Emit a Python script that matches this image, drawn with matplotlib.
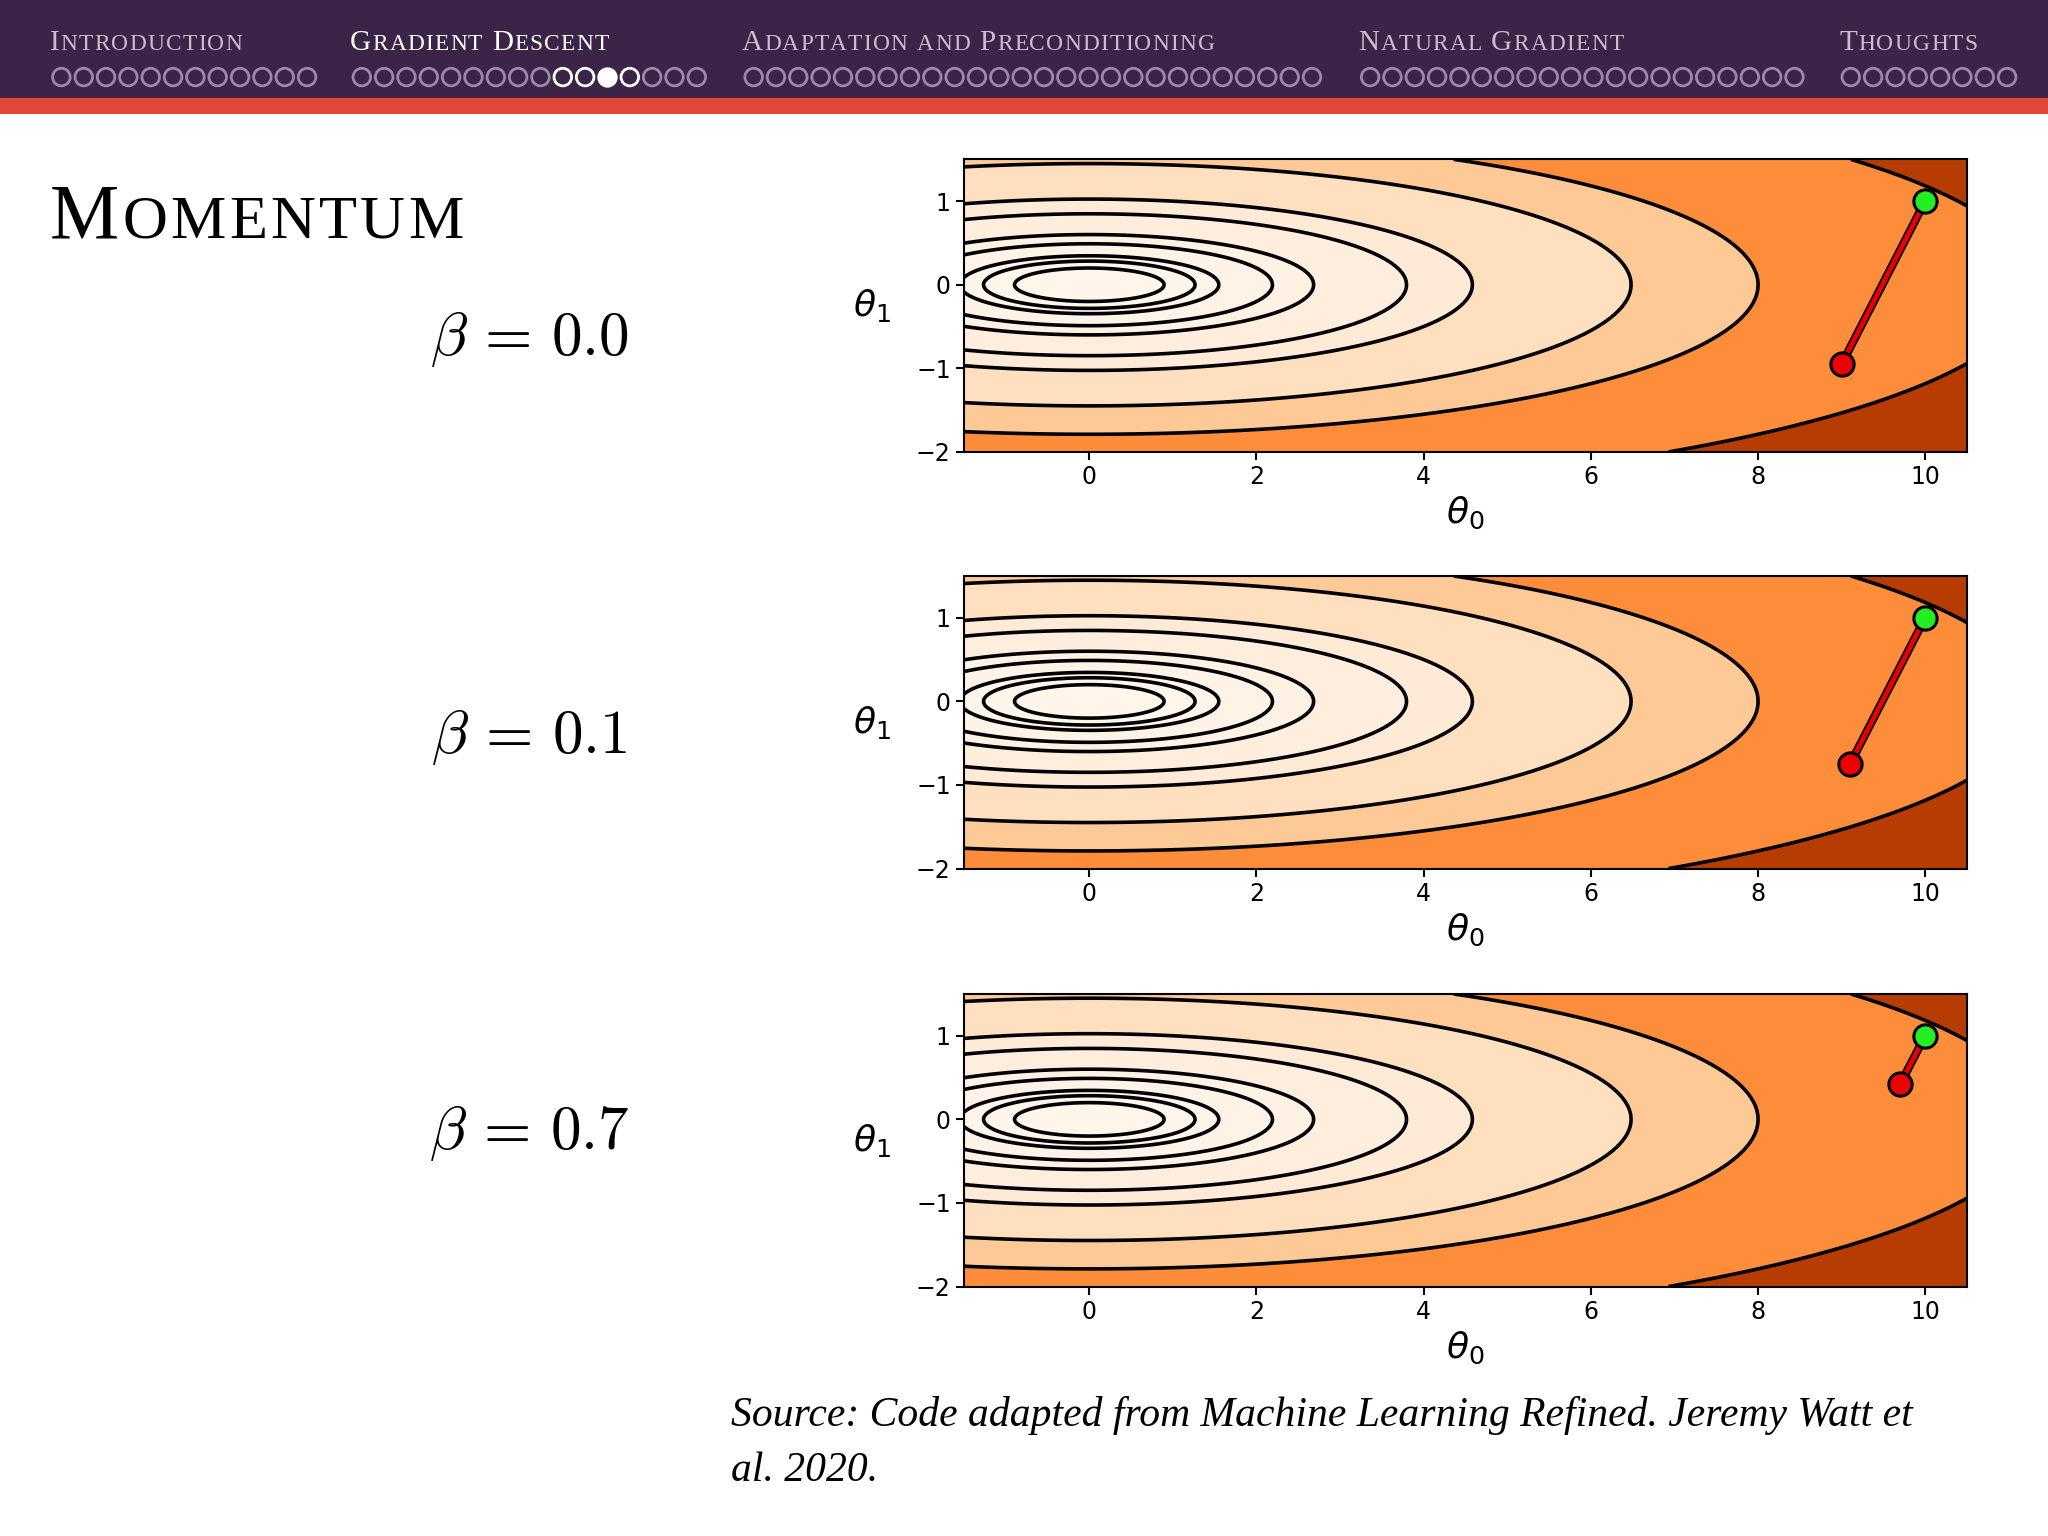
import numpy as np
import matplotlib
matplotlib.use("Agg")
import matplotlib.pyplot as plt

plt.rcParams['mathtext.fontset'] = 'cm'

# data
sections = ["Introduction", "Gradient Descent", "Adaptation and Preconditioning",
            "Natural Gradient", "Thoughts"]
section_x = [38, 268, 568, 1040, 1408]          # left edges (slide px, 1568 wide)
dot_counts = [12, 16, 26, 20, 8]
active_section = 1
gd_white = [9, 10, 12]
gd_filled = 11

contour_levels = [0.8, 1.6, 2.4, 4.8, 7.2, 14.4, 21, 42, 64, 128]
curv_y = 20.0
betas = ["0.0", "0.1", "0.7"]
beta_y = [260, 565, 868]
start = (10.0, 1.0)
ends = [(9.0, -0.95), (9.1, -0.75), (9.7, 0.42)]

W, H = 1568.0, 1176.0
fig = plt.figure(figsize=(20.48, 15.36), dpi=100)
fig.patch.set_facecolor("white")

# header band
hdr = fig.add_axes([0, 1 - 75 / H, 1, 75 / H])
hdr.set_xlim(0, W)
hdr.set_ylim(75, 0)
hdr.set_facecolor("#3c2447")
hdr.set_xticks([]); hdr.set_yticks([])
for s in hdr.spines.values():
    s.set_visible(False)
red = fig.add_axes([0, 1 - 87 / H, 1, 12 / H])
red.set_facecolor("#e2483a"); red.set_xticks([]); red.set_yticks([])
for s in red.spines.values():
    s.set_visible(False)

renderer = fig.canvas.get_renderer()


def small_caps(x, y, txt, size, color, family="Liberation Serif"):
    # fake small caps: capitals full size, other letters as smaller capitals
    cx = x
    for word_i, word in enumerate(txt.split(" ")):
        if word_i:
            cx += size * 0.28 / 72 * 100 / fig.bbox.width
        for ch in word:
            big = ch.isupper()
            t = fig.text(cx, y, ch.upper(), fontsize=size if big else size * 0.8,
                         color=color, family=family, va="baseline")
            cx += (t.get_window_extent(renderer).width + size * 0.06) / fig.bbox.width


for i, (name, sx, n) in enumerate(zip(sections, section_x, dot_counts)):
    col = "white" if i == active_section else "#c9bdd2"
    small_caps(sx / W, 1 - 38 / H, name, 21, col)
    for k in range(n):
        fc, ec = "none", "#9c88a8"
        if i == active_section:
            if k in gd_white:
                ec = "white"
            if k == gd_filled:
                fc, ec = "white", "white"
        hdr.scatter(sx + 9 + k * 17.1, 59, s=160, facecolors=fc, edgecolors=ec,
                    linewidths=2, zorder=3)

small_caps(38 / W, 1 - 182 / H, "Momentum", 56, "black")

x = np.linspace(-1.5, 10.5, 500)
y = np.linspace(-2, 1.5, 300)
X, Y = np.meshgrid(x, y)
Z = X ** 2 + curv_y * Y ** 2
fill_levels = [0] + contour_levels + [Z.max() + 1]

tops = [122, 441, 761]
for top, beta, by, end in zip(tops, betas, beta_y, ends):
    ax = fig.add_axes([738 / W, 1 - (top + 224) / H, 768 / W, 224 / H])
    ax.contourf(X, Y, Z, levels=fill_levels, cmap="Oranges")
    ax.contour(X, Y, Z, levels=contour_levels, colors="k", linewidths=2.6)
    ax.plot([start[0], end[0]], [start[1], end[1]], color="k", lw=6, zorder=3)
    ax.plot([start[0], end[0]], [start[1], end[1]], color="#e60000", lw=3.5, zorder=4)
    ax.scatter([start[0]], [start[1]], s=280, c="#22ee22", edgecolors="k", linewidths=2.2, zorder=5)
    ax.scatter([end[0]], [end[1]], s=280, c="#ee0000", edgecolors="k", linewidths=2.2, zorder=5)
    ax.set_xlim(-1.5, 10.5)
    ax.set_ylim(-2, 1.5)
    ax.set_xticks([0, 2, 4, 6, 8, 10])
    ax.set_yticks([-2, -1, 0, 1])
    ax.tick_params(labelsize=17, width=1.5, length=6)
    for s in ax.spines.values():
        s.set_linewidth(1.5)
    ax.set_xlabel(r"$\theta_0$", fontsize=26, math_fontfamily="dejavusans")
    ax.set_ylabel(r"$\theta_1$", fontsize=26, rotation=0, labelpad=32, va="center",
                  math_fontfamily="dejavusans")
    fig.text(405 / W, 1 - by / H, r"$\beta\,=\,%s$" % beta, fontsize=44,
             ha="center", va="center")

fig.text(560 / W, 1 - 1092 / H, "Source: Code adapted from Machine Learning Refined. Jeremy Watt et",
         fontsize=30, style="italic", family="Liberation Serif")
fig.text(560 / W, 1 - 1134 / H, "al. 2020.", fontsize=30, style="italic", family="Liberation Serif")

fig.savefig("out.png", dpi=100)
